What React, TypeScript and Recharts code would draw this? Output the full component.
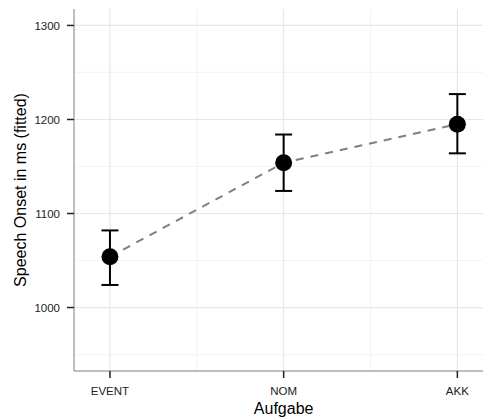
import {
  ComposedChart,
  Line,
  Scatter,
  ErrorBar,
  XAxis,
  YAxis,
  CartesianGrid,
} from "recharts";

const tasks = ["EVENT", "NOM", "AKK"];
const fitted = [1054, 1154, 1195];
const lower = [1024, 1124, 1164];
const upper = [1082, 1184, 1227];

const yTicks = [1000, 1100, 1200, 1300];
const yMinor = [950, 1050, 1150, 1250];
const xMajor = [0, 1, 2];
const xMinor = [0.5, 1.5];

const data = tasks.map((task, i) => ({
  idx: i,
  task,
  fitted: fitted[i],
  err: [fitted[i] - lower[i], upper[i] - fitted[i]],
}));

const font = '"Liberation Sans", Arial, Helvetica, sans-serif';
const border = "#7f7f7f";

const Dot = (props: any) => (
  <circle cx={props.cx} cy={props.cy} r={8.5} fill="#000" />
);

export default function App() {
  return (
    <div
      style={{
        position: "absolute",
        left: 0,
        top: 0,
        width: 483,
        height: 419,
        overflow: "hidden",
        background: "#fff",
        fontFamily: font,
      }}
    >
      <ComposedChart
        width={500}
        height={419}
        data={data}
        margin={{ top: 9, right: 6.7, bottom: 0, left: 0 }}
      >
        <CartesianGrid
          horizontalValues={yMinor}
          verticalValues={xMinor}
          stroke="#f4f4f4"
          strokeWidth={1.2}
          fill="none"
        />
        <CartesianGrid
          horizontalValues={yTicks}
          verticalValues={xMajor}
          stroke="#e6e6e6"
          strokeWidth={1.2}
          fill="none"
        />
        <XAxis
          dataKey="idx"
          type="number"
          domain={[-0.207, 2.207]}
          ticks={xMajor}
          allowDataOverflow
          tickFormatter={(v: number) => tasks[v] ?? ""}
          height={48}
          tickSize={7}
          tickMargin={9}
          stroke={border}
          tickLine={{ stroke: "#222", strokeWidth: 1.5 }}
          tick={{ fill: "#222", fontSize: 11.5, fontFamily: font }}
          label={{
            value: "Aufgabe",
            position: "insideBottom",
            offset: 5,
            fill: "#000",
            fontSize: 16,
            fontFamily: font,
          }}
        />
        <XAxis
          xAxisId="top"
          orientation="top"
          dataKey="idx"
          type="number"
          domain={[-0.207, 2.207]}
          height={0}
          tick={false}
          tickLine={false}
          stroke={border}
        />
        <YAxis
          type="number"
          domain={[932.5, 1317.5]}
          ticks={yTicks}
          allowDataOverflow
          width={74}
          tickSize={7}
          tickMargin={7}
          stroke={border}
          tickLine={{ stroke: "#222", strokeWidth: 1.5 }}
          tick={{ fill: "#222", fontSize: 11.5, fontFamily: font }}
          label={{
            value: "Speech Onset in ms (fitted)",
            angle: -90,
            position: "center",
            dx: -17,
            fill: "#000",
            fontSize: 16,
            fontFamily: font,
          }}
        />
        <Line
          dataKey="fitted"
          type="linear"
          stroke="#808080"
          strokeWidth={2}
          strokeDasharray="8 7"
          dot={false}
          activeDot={false}
          isAnimationActive={false}
        />
        <Scatter dataKey="fitted" shape={Dot} isAnimationActive={false}>
          <ErrorBar
            dataKey="err"
            direction="y"
            width={8.5}
            stroke="#000"
            strokeWidth={2}
            isAnimationActive={false}
          />
        </Scatter>
      </ComposedChart>
    </div>
  );
}
